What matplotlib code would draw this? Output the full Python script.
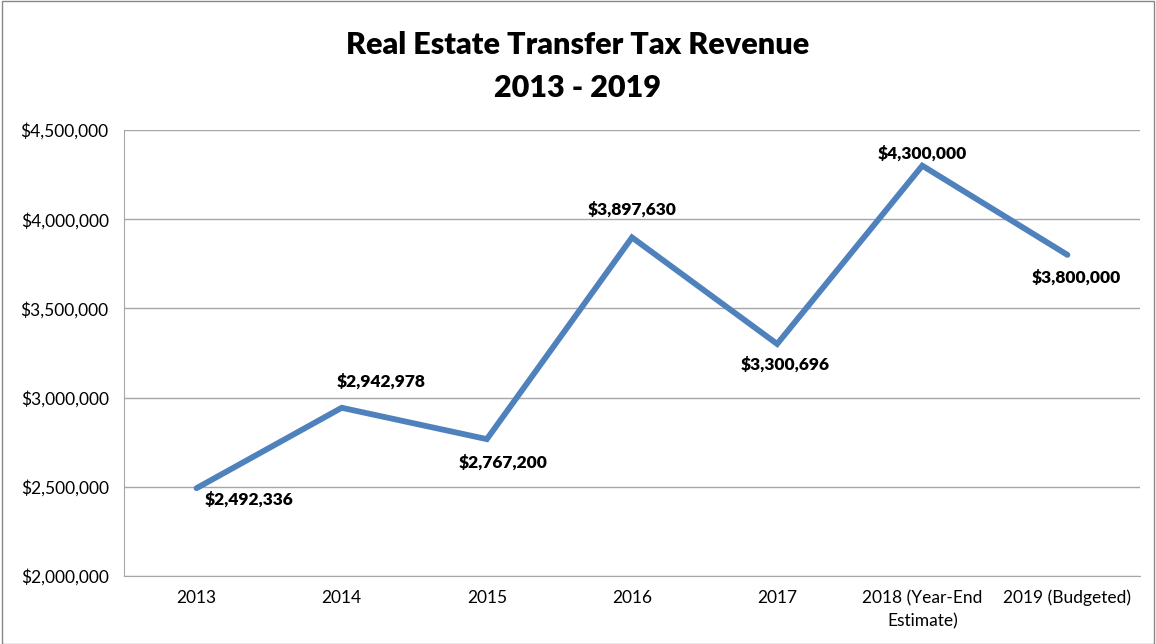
import matplotlib
matplotlib.use("Agg")
import matplotlib.pyplot as plt
from matplotlib.patches import Rectangle
from matplotlib.ticker import FuncFormatter

categories = ["2013", "2014", "2015", "2016", "2017",
              "2018 (Year-End\nEstimate)", "2019 (Budgeted)"]
revenue = [2492336, 2942978, 2767200, 3897630, 3300696, 4300000, 3800000]
label_dx = [52, 39, 16, 0, 8, 0, 9]
label_dy = [-11, 26, -23, 28, -21, 12, -23]

plt.rcParams['font.family'] = ['Lato', 'DejaVu Sans']

fig = plt.figure(figsize=(11.56, 6.44), dpi=100)
ax = fig.add_axes([124/1156, 1 - 576/644, (1140-124)/1156, (576-130)/644])

x = list(range(len(categories)))
ax.plot(x, revenue, color="#4F81BD", linewidth=4.2, solid_capstyle="round", solid_joinstyle="miter", zorder=3)

for xi, v, dx, dy in zip(x, revenue, label_dx, label_dy):
    ax.annotate(f"${v:,.0f}", (xi, v), xytext=(dx * 0.72, dy * 0.72), textcoords="offset points",
                ha="center", va="center", fontsize=12.5, fontweight="heavy", color="black")

ax.set_xlim(-0.5, len(categories) - 0.5)
ax.set_ylim(2000000, 4500000)
ax.set_yticks(range(2000000, 4500001, 500000))
ax.yaxis.set_major_formatter(FuncFormatter(lambda v, p: f"${v:,.0f}"))
ax.set_xticks(x)
ax.set_xticklabels(categories, fontsize=12.5, linespacing=1.55)
ax.tick_params(axis="y", labelsize=12.5, length=0, pad=11)
ax.tick_params(axis="x", length=0, pad=10)
ax.grid(axis="y", color="#A6A6A6", linewidth=1.0)
ax.set_axisbelow(True)
for s in ["top", "right"]:
    ax.spines[s].set_visible(False)
ax.spines["left"].set_color("#A6A6A6")
ax.spines["bottom"].set_color("#A6A6A6")

fig.text(0.5, 1 - 45/644, "Real Estate Transfer Tax Revenue", ha="center", va="center",
         fontsize=22, fontweight="heavy")
fig.text(0.5, 1 - 88/644, "2013 - 2019", ha="center", va="center",
         fontsize=22, fontweight="heavy")

fig.patches.append(Rectangle((2/1156, 0), 1 - 4/1156, 1 - 1/644, transform=fig.transFigure,
                             fill=False, edgecolor="#888888", linewidth=1.0))

fig.savefig("out.png", dpi=100)
